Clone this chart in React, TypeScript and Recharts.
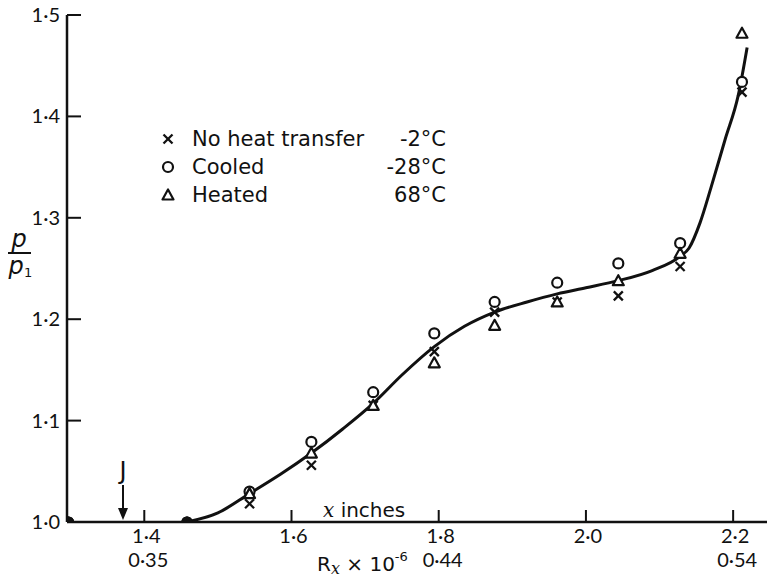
import React from "react"
import { ComposedChart, Line, Scatter, XAxis, YAxis } from "recharts"

// Rx x 10^-6 positions of the measuring stations
const stations = [1.297, 1.458, 1.543, 1.627, 1.711, 1.794, 1.876, 1.961, 2.044, 2.128, 2.212]

// p / p1 readings
const noHeatTransfer = [1.0, 1.0, 1.018, 1.056, 1.115, 1.168, 1.207, 1.217, 1.223, 1.252, 1.424]
const cooled = [1.0, 1.0, 1.03, 1.079, 1.128, 1.186, 1.217, 1.236, 1.255, 1.275, 1.434]
const heated = [1.0, 1.0, 1.028, 1.068, 1.115, 1.157, 1.194, 1.217, 1.238, 1.265, 1.482]

// hand-faired mean curve
const curveX = [1.458, 1.5, 1.543, 1.585, 1.627, 1.67, 1.711, 1.75, 1.794, 1.835, 1.876, 1.92, 1.961, 2.0, 2.044, 2.09, 2.128, 2.14, 2.155, 2.17, 2.189, 2.207, 2.219]
const curveY = [1.0, 1.009, 1.028, 1.047, 1.068, 1.092, 1.117, 1.145, 1.173, 1.193, 1.207, 1.217, 1.225, 1.231, 1.238, 1.248, 1.262, 1.27, 1.295, 1.33, 1.377, 1.421, 1.468]

const xTicks = [1.4, 1.6, 1.8, 2.0, 2.2]
const xTickLabels = ["1·4", "1·6", "1·8", "2·0", "2·2"]
const xInchLabels = ["0·35", "", "0·44", "", "0·54"]
const yTicks = [1.0, 1.1, 1.2, 1.3, 1.4, 1.5]
const yTickLabels = ["1·0", "1·1", "1·2", "1·3", "1·4", "1·5"]

const legendRows = [
  { key: "cross", name: "No heat transfer", temp: "-2°C" },
  { key: "circle", name: "Cooled", temp: "-28°C" },
  { key: "triangle", name: "Heated", temp: "68°C" },
]

const toPoints = (ys: number[]) => stations.map((x, i) => ({ x, y: ys[i] }))
const curveData = curveX.map((x, i) => ({ x, y: curveY[i] }))

const FONT = "Lato, 'Open Sans', sans-serif"
const TEXT_FONT = "'DejaVu Sans', sans-serif"
const INK = "#111"

function MarkerGlyph({ kind, cx, cy }: { kind: string; cx: number; cy: number }) {
  if (kind === "cross") {
    const d = 4.5
    return (
      <g stroke={INK} strokeWidth={2.3}>
        <line x1={cx - d} y1={cy - d} x2={cx + d} y2={cy + d} />
        <line x1={cx - d} y1={cy + d} x2={cx + d} y2={cy - d} />
      </g>
    )
  }
  if (kind === "circle") {
    return <circle cx={cx} cy={cy} r={5} fill="#fff" stroke={INK} strokeWidth={2.2} />
  }
  return (
    <polygon
      points={`${cx},${cy - 5.5} ${cx - 5.5},${cy + 4.5} ${cx + 5.5},${cy + 4.5}`}
      fill="#fff"
      stroke={INK}
      strokeWidth={2.2}
      strokeLinejoin="round"
    />
  )
}

const markerShape = (kind: string) => (props: any) => {
  const { cx, cy, payload } = props
  if (payload && payload.y === 1) {
    return <circle cx={cx} cy={cy} r={5.5} fill={INK} />
  }
  return <MarkerGlyph kind={kind} cx={cx} cy={cy} />
}

function XTick(props: any) {
  const { x, y, payload } = props
  const i = xTicks.indexOf(payload.value)
  return (
    <g>
      <line x1={x} y1={y} x2={x} y2={y - 12} stroke={INK} strokeWidth={2} />
      <text x={x + 2} y={y + 21} textAnchor="middle" fontSize={20} fontFamily={FONT} fill={INK}>
        {xTickLabels[i]}
      </text>
      {xInchLabels[i] && (
        <text x={x + 4} y={y + 45} textAnchor="middle" fontSize={20} fontFamily={FONT} fill={INK}>
          {xInchLabels[i]}
        </text>
      )}
    </g>
  )
}

function YTick(props: any) {
  const { x, y, payload } = props
  const i = yTicks.indexOf(payload.value)
  return (
    <g>
      <line x1={x} y1={y} x2={x + 14} y2={y} stroke={INK} strokeWidth={2} />
      <text x={x - 7} y={y + 7} textAnchor="end" fontSize={20} fontFamily={FONT} fill={INK}>
        {yTickLabels[i]}
      </text>
    </g>
  )
}

export default function App() {
  return (
    <div style={{ position: "absolute", left: 0, top: 0, width: 767, height: 581, background: "#fff" }}>
      <ComposedChart width={767} height={581} margin={{ top: 15, right: 0, bottom: 0, left: 0 }}>
        <XAxis
          dataKey="x"
          type="number"
          domain={[1.295, 2.246]}
          ticks={xTicks}
          allowDataOverflow
          height={59}
          tickSize={0}
          tickMargin={0}
          tickLine={false}
          tick={<XTick />}
          axisLine={{ stroke: INK, strokeWidth: 2.5 }}
        />
        <YAxis
          dataKey="y"
          type="number"
          domain={[1.0, 1.5]}
          ticks={yTicks}
          allowDataOverflow
          width={67}
          tickSize={0}
          tickMargin={0}
          tickLine={false}
          tick={<YTick />}
          axisLine={{ stroke: INK, strokeWidth: 2.5 }}
        />
        <Line
          data={curveData}
          dataKey="y"
          type="monotone"
          stroke={INK}
          strokeWidth={3}
          dot={false}
          activeDot={false}
          isAnimationActive={false}
        />
        <Scatter data={toPoints(noHeatTransfer)} dataKey="y" shape={markerShape("cross")} isAnimationActive={false} />
        <Scatter data={toPoints(cooled)} dataKey="y" shape={markerShape("circle")} isAnimationActive={false} />
        <Scatter data={toPoints(heated)} dataKey="y" shape={markerShape("triangle")} isAnimationActive={false} />
      </ComposedChart>

      <svg
        width={767}
        height={581}
        style={{ position: "absolute", left: 0, top: 0, pointerEvents: "none" }}
        fontFamily={TEXT_FONT}
        fill={INK}
      >
        {/* legend */}
        {legendRows.map((r, i) => {
          const cy = 139 + i * 28
          return (
            <g key={r.key}>
              <MarkerGlyph kind={r.key} cx={168} cy={cy} />
              <text x={192} y={cy + 7} fontSize={21}>
                {r.name}
              </text>
              <text x={446} y={cy + 7} fontSize={21} textAnchor="end">
                {r.temp}
              </text>
            </g>
          )
        })}

        {/* y axis title p / p1 */}
        <text x={19} y={247} fontSize={24} fontStyle="italic" textAnchor="middle">
          p
        </text>
        <line x1={8} y1={253} x2={31} y2={253} stroke={INK} strokeWidth={2} />
        <text x={16} y={274} fontSize={24} fontStyle="italic" textAnchor="middle">
          p
        </text>
        <text x={24} y={277} fontSize={13}>
          1
        </text>

        {/* transition marker J */}
        <text x={123} y={479} fontSize={24} textAnchor="middle">
          J
        </text>
        <line x1={123} y1={485} x2={123} y2={514} stroke={INK} strokeWidth={2} />
        <polygon points="118,508 128,508 123,520" fill={INK} />

        {/* axis captions */}
        <text x={323} y={517} fontSize={20}>
          <tspan fontStyle="italic" fontFamily="'DejaVu Serif', serif">x</tspan> inches
        </text>
        <text x={317} y={571} fontSize={20}>
          R
          <tspan fontStyle="italic" fontFamily="'DejaVu Serif', serif" fontSize={16} dy={3}>
            x
          </tspan>
          <tspan dy={-3}> × 10</tspan>
          <tspan fontSize={13} dy={-10}>
            -6
          </tspan>
        </text>
      </svg>
    </div>
  )
}
